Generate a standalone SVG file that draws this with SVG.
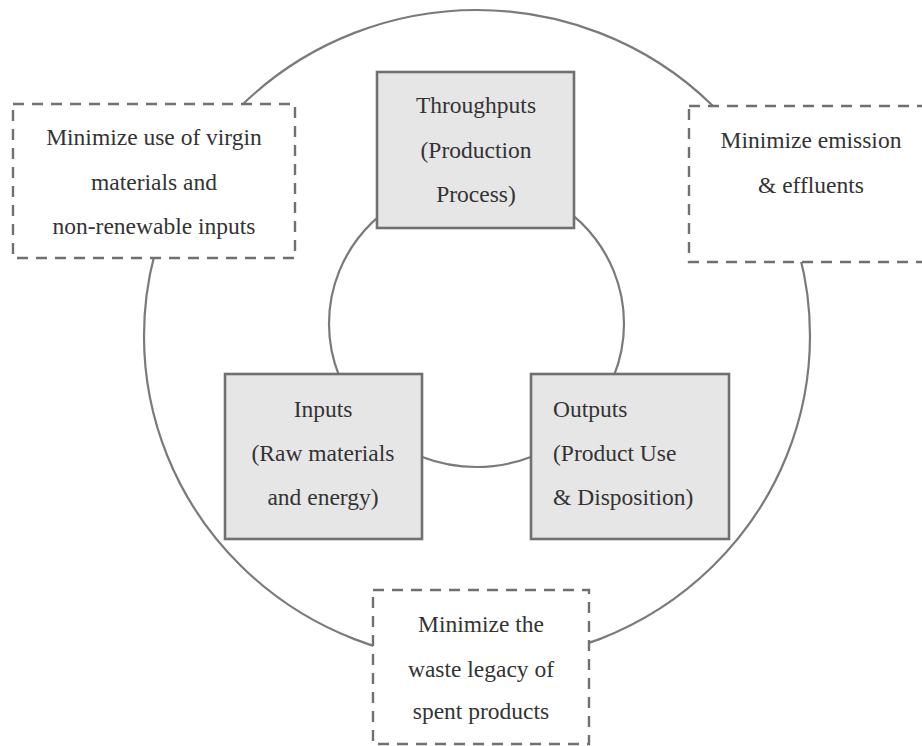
<svg xmlns="http://www.w3.org/2000/svg" width="922" height="746" viewBox="0 0 922 746">
<style>
.ring{fill:none;stroke:#7a7a7a;stroke-width:2.2}
.box{fill:#e6e6e6;stroke:#707070;stroke-width:2.6}
.dash{fill:#ffffff;stroke:#707070;stroke-width:2.4;stroke-dasharray:11 8}
.t{font-family:'Liberation Serif','DejaVu Serif',serif;font-size:23.5px;fill:#333333}
.c{text-anchor:middle}
</style>
<rect width="922" height="746" fill="#ffffff"/>
<g id="connectors">
<ellipse class="ring" cx="477" cy="336" rx="333" ry="326"/>
<ellipse class="ring" cx="476.5" cy="323.7" rx="147.5" ry="143.3"/>
</g>
<g id="throughputs" class="t" font-family="Liberation Serif, serif">
<rect class="box" x="377" y="72" width="197" height="156"/>
<text class="c" x="476" y="113">Throughputs</text>
<text class="c" x="476" y="158">(Production</text>
<text class="c" x="476" y="202">Process)</text>
</g>
<g id="inputs" class="t" font-family="Liberation Serif, serif">
<rect class="box" x="225" y="374" width="197" height="165"/>
<text class="c" x="323" y="417">Inputs</text>
<text class="c" x="323" y="461">(Raw materials</text>
<text class="c" x="323" y="505">and energy)</text>
</g>
<g id="outputs" class="t" font-family="Liberation Serif, serif">
<rect class="box" x="531" y="374" width="198" height="165"/>
<text x="553" y="417">Outputs</text>
<text x="553" y="461">(Product Use</text>
<text x="553" y="505">&amp; Disposition)</text>
</g>
<g id="min-virgin" class="t" font-family="Liberation Serif, serif">
<rect class="dash" x="13" y="104" width="282" height="154"/>
<text class="c" x="154" y="145">Minimize use of virgin</text>
<text class="c" x="154" y="190">materials and</text>
<text class="c" x="154" y="234">non-renewable inputs</text>
</g>
<g id="min-emission" class="t" font-family="Liberation Serif, serif">
<rect class="dash" x="689" y="106" width="250" height="156"/>
<text class="c" x="811" y="148">Minimize emission</text>
<text class="c" x="811" y="193">&amp; effluents</text>
</g>
<g id="min-waste" class="t" font-family="Liberation Serif, serif">
<rect class="dash" x="373" y="590" width="216" height="154"/>
<text class="c" x="481" y="632">Minimize the</text>
<text class="c" x="481" y="677">waste legacy of</text>
<text class="c" x="481" y="719">spent products</text>
</g>
</svg>
